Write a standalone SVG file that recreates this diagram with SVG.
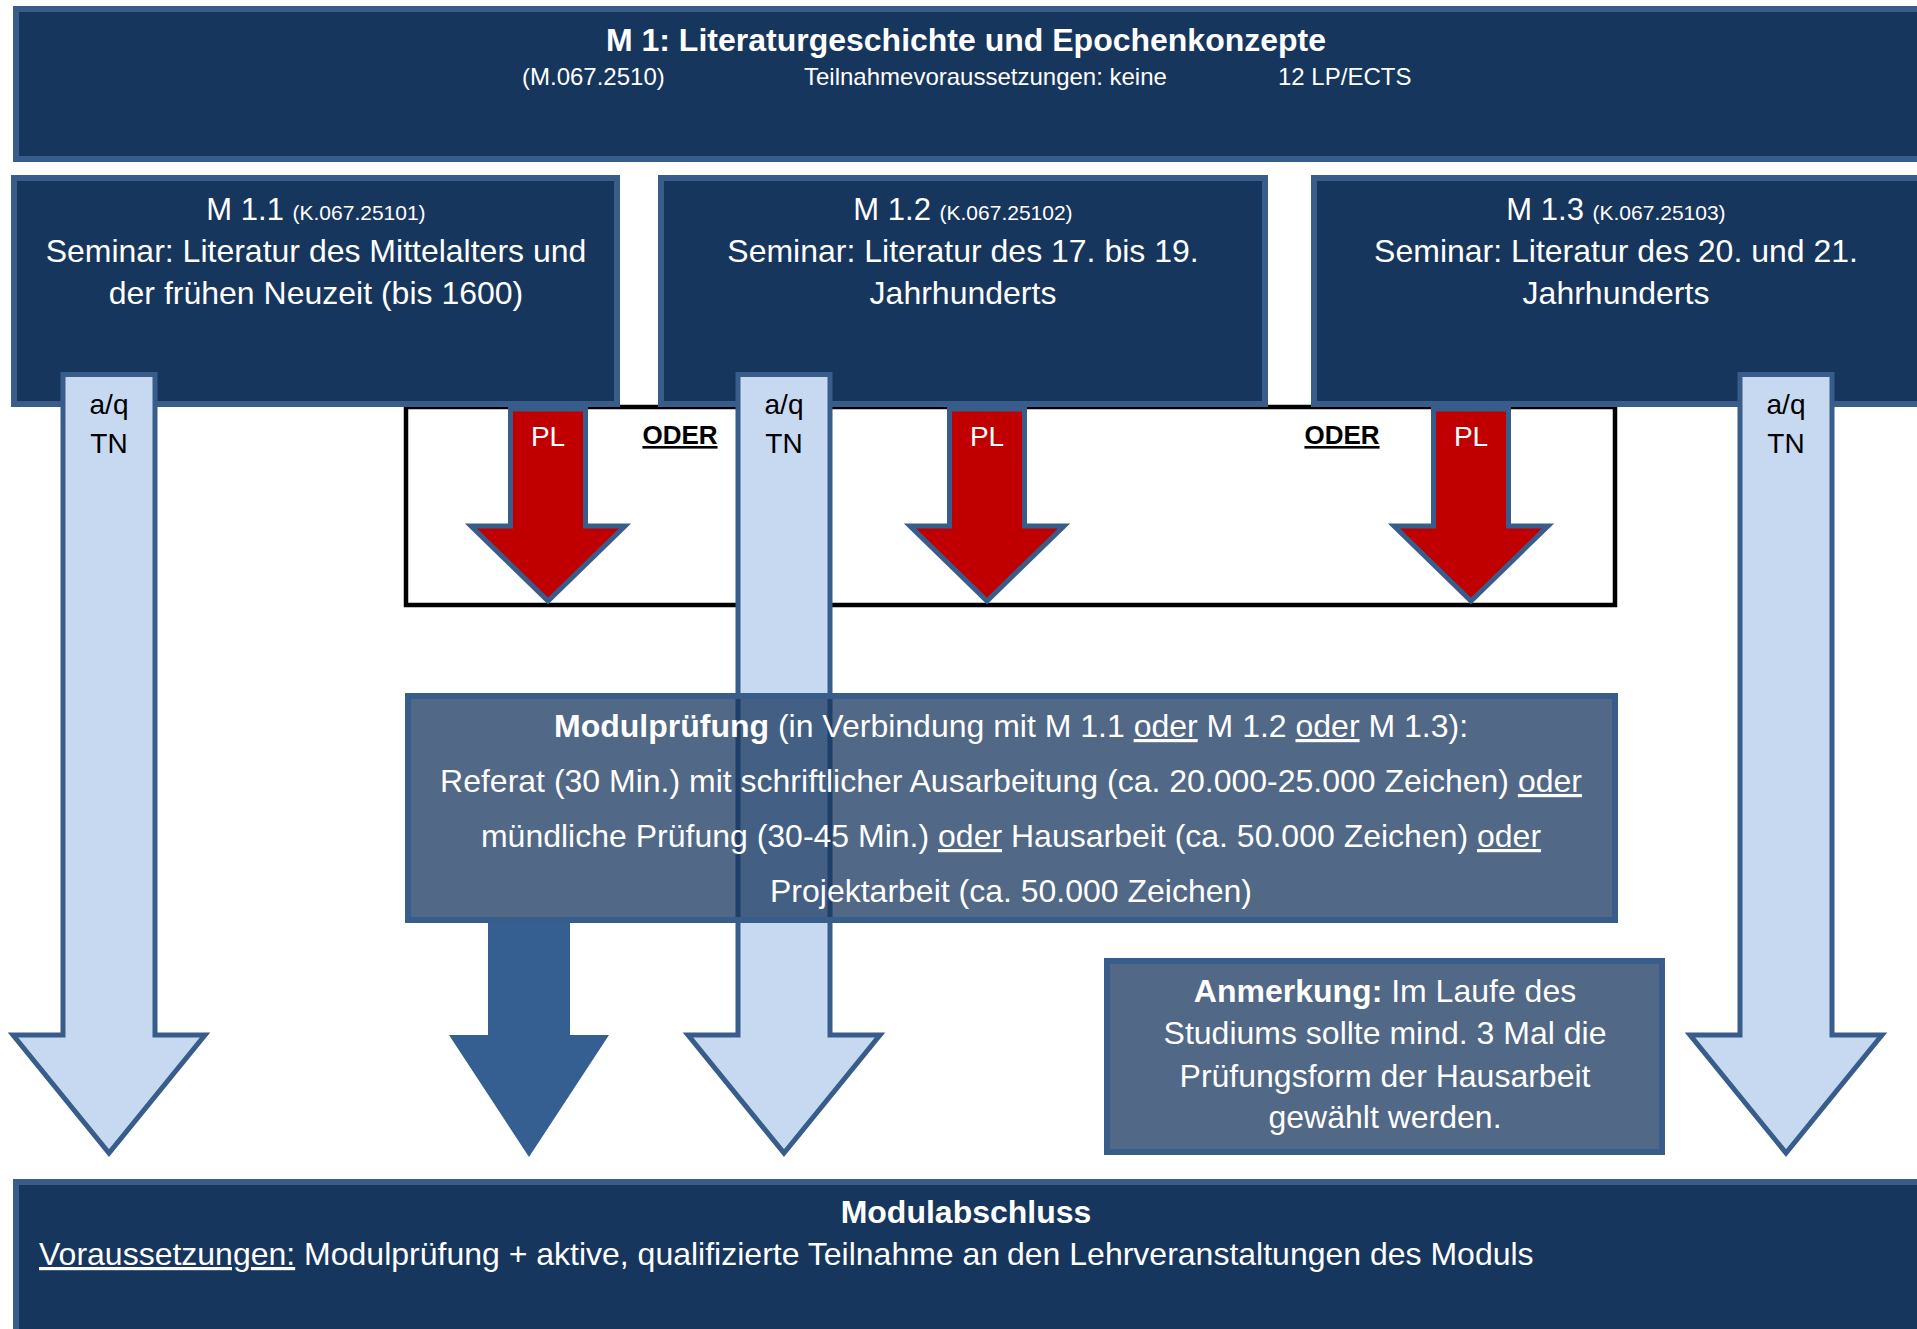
<svg xmlns="http://www.w3.org/2000/svg" width="1917" height="1329" viewBox="0 0 1917 1329">
<defs>
<style>
text{font-family:"Liberation Sans",Arial,sans-serif;}
.box{fill:#17365d;stroke:#385d8a;stroke-width:6;}
.tbox{fill:#17365d;fill-opacity:0.75;stroke:#385d8a;stroke-width:6;}
.la{fill:#c6d9f1;stroke:#385d8a;stroke-width:5;stroke-linejoin:miter;stroke-miterlimit:10;}
.ra{fill:#c00000;stroke:#385d8a;stroke-width:5;stroke-linejoin:miter;stroke-miterlimit:10;}
.da{fill:#365f91;}
.w{fill:#ffffff;}
.k{fill:#000000;}
.b{font-weight:bold;}
.u{text-decoration:underline;}
.c{text-anchor:middle;}
.t32{font-size:32px;}
.t31{font-size:31px;}
.t28{font-size:28px;}
.t24{font-size:24px;}
.t21{font-size:21px;}
</style>
</defs>

<rect id="oder-frame" x="406" y="407" width="1209" height="198" fill="#ffffff" stroke="#000000" stroke-width="4.5"/>

<g id="m1">
<rect class="box" x="16" y="9" width="1910" height="150"/>
<text class="w b t32 c" x="966" y="51">M 1: Literaturgeschichte und Epochenkonzepte</text>
<text class="w t24" x="522" y="85">(M.067.2510)</text>
<text class="w t24" x="804" y="85">Teilnahmevoraussetzungen: keine</text>
<text class="w t24" x="1278" y="85">12 LP/ECTS</text>
</g>

<g id="m1-1">
<rect class="box" x="14" y="178" width="603" height="226"/>
<text class="w c" x="316" y="220"><tspan class="t31">M 1.1 </tspan><tspan class="t21">(K.067.25101)</tspan></text>
<text class="w t32 c" x="316" y="262">Seminar: Literatur des Mittelalters und</text>
<text class="w t32 c" x="316" y="304">der frühen Neuzeit (bis 1600)</text>
</g>

<g id="m1-2">
<rect class="box" x="661" y="178" width="604" height="226"/>
<text class="w c" x="963" y="220"><tspan class="t31">M 1.2 </tspan><tspan class="t21">(K.067.25102)</tspan></text>
<text class="w t32 c" x="963" y="262">Seminar: Literatur des 17. bis 19.</text>
<text class="w t32 c" x="963" y="304">Jahrhunderts</text>
</g>

<g id="m1-3">
<rect class="box" x="1314" y="178" width="620" height="226"/>
<text class="w c" x="1616" y="220"><tspan class="t31">M 1.3 </tspan><tspan class="t21">(K.067.25103)</tspan></text>
<text class="w t32 c" x="1616" y="262">Seminar: Literatur des 20. und 21.</text>
<text class="w t32 c" x="1616" y="304">Jahrhunderts</text>
</g>

<g id="connectors">
<g id="pl-1">
<path class="ra" d="M510.5,409 H585.5 V526 H625 L548,601 L471,526 H510.5 Z"/>
<text class="w t28 c" x="548" y="446">PL</text>
</g>
<g id="pl-2">
<path class="ra" d="M949.5,409 H1024.5 V526 H1064 L987,601 L910,526 H949.5 Z"/>
<text class="w t28 c" x="987" y="446">PL</text>
</g>
<g id="pl-3">
<path class="ra" d="M1433.5,409 H1508.5 V526 H1548 L1471,601 L1394,526 H1433.5 Z"/>
<text class="w t28 c" x="1471" y="446">PL</text>
</g>
<text class="k b u c" style="font-size:26px" x="680" y="444">ODER</text>
<text class="k b u c" style="font-size:26px" x="1342" y="444">ODER</text>

<g id="tn-1">
<path class="la" d="M63,374.5 H155 V1035 H205 L109,1153 L13,1035 H63 Z"/>
<text class="k t28 c" x="109" y="414">a/q</text>
<text class="k t28 c" x="109" y="453">TN</text>
</g>
<g id="tn-2">
<path class="la" d="M738,374.5 H830 V1035 H880 L784,1153 L688,1035 H738 Z"/>
<text class="k t28 c" x="784" y="414">a/q</text>
<text class="k t28 c" x="784" y="453">TN</text>
</g>
<g id="tn-3">
<path class="la" d="M1740,374.5 H1832 V1035 H1882 L1786,1153 L1690,1035 H1740 Z"/>
<text class="k t28 c" x="1786" y="414">a/q</text>
<text class="k t28 c" x="1786" y="453">TN</text>
</g>
<path id="mp-arrow" class="da" d="M488,920 H570 V1035 H609 L529,1157 L449,1035 H488 Z"/>
</g>

<g id="modulpruefung">
<rect class="tbox" x="408" y="696" width="1207" height="224"/>
<text class="w t32 c" x="1011" y="737"><tspan class="b">Modulprüfung</tspan> (in Verbindung mit M 1.1 <tspan class="u">oder</tspan> M 1.2 <tspan class="u">oder</tspan> M 1.3):</text>
<text class="w t32 c" x="1011" y="792">Referat (30 Min.) mit schriftlicher Ausarbeitung (ca. 20.000-25.000 Zeichen) <tspan class="u">oder</tspan></text>
<text class="w t32 c" x="1011" y="847">mündliche Prüfung (30-45 Min.) <tspan class="u">oder</tspan> Hausarbeit (ca. 50.000 Zeichen) <tspan class="u">oder</tspan></text>
<text class="w t32 c" x="1011" y="902">Projektarbeit (ca. 50.000 Zeichen)</text>
</g>

<g id="anmerkung">
<rect class="tbox" x="1107" y="961" width="555" height="191"/>
<text class="w t32 c" x="1385" y="1002"><tspan class="b">Anmerkung:</tspan> Im Laufe des</text>
<text class="w t32 c" x="1385" y="1044">Studiums sollte mind. 3 Mal die</text>
<text class="w t32 c" x="1385" y="1087">Prüfungsform der Hausarbeit</text>
<text class="w t32 c" x="1385" y="1128">gewählt werden.</text>
</g>

<g id="modulabschluss">
<rect class="box" x="16" y="1182" width="1910" height="160"/>
<text class="w b t32 c" x="966" y="1223">Modulabschluss</text>
<text class="w t32" x="39" y="1265"><tspan class="u">Voraussetzungen:</tspan> Modulprüfung + aktive, qualifizierte Teilnahme an den Lehrveranstaltungen des Moduls</text>
</g>
</svg>
